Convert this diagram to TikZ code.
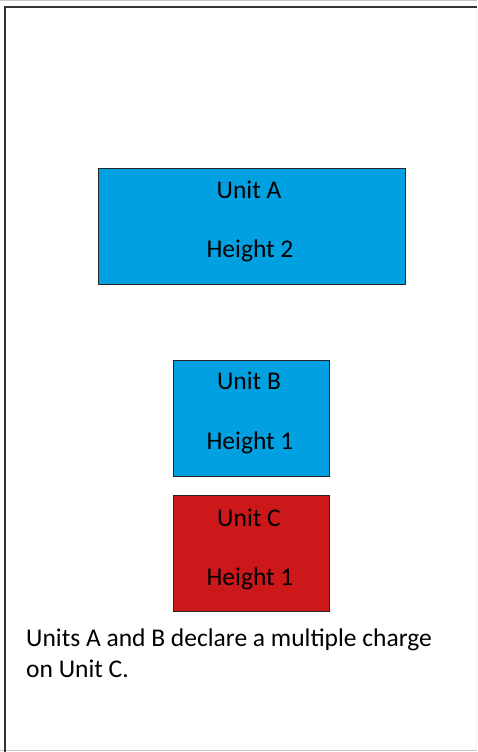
\documentclass[tikz,border=0pt]{standalone}
\usepackage{fontspec}
\setmainfont{Carlito}
\definecolor{unitblue}{RGB}{0,160,225}
\definecolor{unitred}{RGB}{204,23,27}
\tikzset{
  unitbox/.style={draw=black!85, line width=1pt, minimum height=116pt, inner sep=0pt},
  unittext/.style={anchor=base, inner sep=0pt, font=\fontsize{25.5}{31}\selectfont},
}
\begin{document}
\begin{tikzpicture}[x=1pt,y=-1pt]
  \useasboundingbox (0,0) rectangle (477,752);
  % page frame
  \draw[gray!45, line width=1pt] (0,0.5) -- (477,0.5);
  \draw[gray!45, line width=1pt] (0,750.5) -- (477,750.5);
  \draw[gray!10, line width=1pt] (476,7) -- (476,750);
  \coordinate (frametop) at (477,7);
  \coordinate (framecorner) at (5,7);
  \coordinate (framebottom) at (5,752);
  \draw[black!80, line width=2.8pt] (frametop) -- (framecorner) -- (framebottom);
  % units
  \node[unitbox, fill=unitblue, minimum width=307pt] (unitA) at (251.5,226) {};
  \node[unitbox, fill=unitblue, minimum width=156pt] (unitB) at (251,418) {};
  \node[unitbox, fill=unitred, minimum width=156pt] (unitC) at (251,553) {};
  \foreach \n/\y/\t in{A/198/Unit A, B/389/Unit B, C/526/Unit C}{%
    \node[unittext] (name\n) at (249,\y) {\t};
  }
  \foreach \n/\y/\t in{A/257/Height 2, B/449/Height 1, C/585/Height 1}{%
    \node[unittext] (height\n) at (250,\y) {\t};
  }
  % note
  \node[unittext, anchor=base west, align=left] (note) at (26,677)
    {Units A and B declare a multiple charge\\on Unit C.};
\end{tikzpicture}
\end{document}
